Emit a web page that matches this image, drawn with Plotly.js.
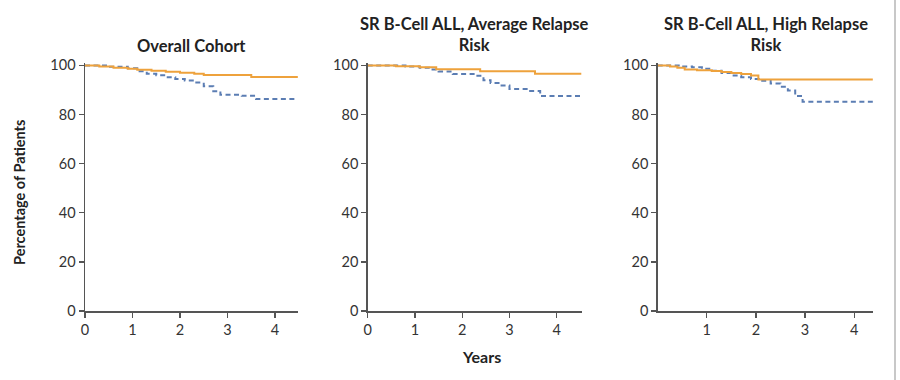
<!DOCTYPE html>
<html>
<head>
<meta charset="utf-8">
<script src="https://cdn.plot.ly/plotly-3.0.1.min.js"></script>
<style>html,body{margin:0;padding:0;background:#fff;}#chart{width:900px;height:380px;}</style>
</head>
<body>
<div id="chart"></div>
<script>
// Panel titles
const panelTitles = ["Overall Cohort", "SR B-Cell ALL, Average Relapse<br>Risk", "SR B-Cell ALL, High Relapse<br>Risk"];
const yTickVals = [0, 20, 40, 60, 80, 100];
const xTickVals1 = [0, 1, 2, 3, 4];
const xTickVals2 = [0, 1, 2, 3, 4];
const xTickVals3 = [1, 2, 3, 4];

// Overall cohort
const orange1X = [0, 0.3, 0.6, 0.9, 1.1, 1.4, 1.7, 2.0, 2.3, 2.5, 3.5, 4.48];
const orange1Y = [100, 99.6, 99.0, 98.6, 98.2, 97.8, 97.4, 97.0, 96.6, 96.1, 95.3, 95.3];
const blue1X = [0, 0.5, 0.9, 1.1, 1.3, 1.5, 1.7, 1.9, 2.1, 2.3, 2.5, 2.7, 2.85, 3.3, 3.6, 4.48];
const blue1Y = [100, 99.4, 98.8, 97.6, 96.6, 96.0, 95.2, 94.5, 93.8, 93.0, 91.5, 89.5, 88.0, 87.6, 86.3, 86.3];

// Average relapse risk
const orange2X = [0, 0.6, 1.1, 1.45, 2.38, 3.54, 4.52];
const orange2Y = [100, 99.7, 99.2, 98.4, 97.6, 96.6, 96.6];
const blue2X = [0, 0.8, 1.1, 1.3, 1.5, 1.8, 2.3, 2.45, 2.6, 2.8, 3.0, 3.4, 3.65, 4.52];
const blue2Y = [100, 99.6, 99.0, 98.3, 97.5, 96.5, 95.8, 94.0, 92.8, 91.8, 90.4, 89.6, 87.5, 87.5];

// High relapse risk
const orange3X = [0, 0.25, 0.4, 0.55, 0.8, 1.1, 1.3, 1.5, 1.7, 1.9, 2.05, 4.38];
const orange3Y = [100, 99.6, 99.0, 98.3, 98.0, 97.7, 97.3, 96.9, 96.5, 95.9, 94.3, 94.3];
const blue3X = [0, 0.45, 0.7, 0.9, 1.1, 1.3, 1.5, 1.7, 1.9, 2.1, 2.3, 2.5, 2.65, 2.8, 2.95, 4.38];
const blue3Y = [100, 99.6, 99.2, 98.6, 97.8, 96.9, 95.9, 95.2, 94.5, 93.7, 92.6, 91.3, 89.8, 87.5, 85.2, 85.2];

const W = 900, H = 380;
const ORANGE = "#EEA23C", BLUE = "#5B7DB3";
const FONT = "Lato, 'Open Sans', sans-serif";

function px(x) { return x / W; }
function py(y) { return 1 - y / H; }

// pixel geometry of panels
const y100 = 65.4, y0 = 311, yTop = 101;
const pxPerUnit = (y0 - y100) / 100;
const yDomTopPx = y0 - yTop * pxPerUnit;
const panels = [
  { l: 85, r: 298.3, xmax: 4.49, ticks: xTickVals1 },
  { l: 367.7, r: 582, xmax: 4.535, ticks: xTickVals2 },
  { l: 657.7, r: 873.3, xmax: 4.39, ticks: xTickVals3 }
];
const series = [
  [orange1X, orange1Y, blue1X, blue1Y],
  [orange2X, orange2Y, blue2X, blue2Y],
  [orange3X, orange3Y, blue3X, blue3Y]
];

const data = [];
const layout = {
  width: W, height: H,
  margin: { l: 0, r: 0, t: 0, b: 0 },
  paper_bgcolor: "#fff", plot_bgcolor: "#fff",
  showlegend: false,
  font: { family: FONT, color: "#333", size: 14 },
  annotations: [],
  shapes: [
    { type: "line", xref: "paper", yref: "paper", x0: px(895), x1: px(895), y0: 0, y1: 1,
      line: { color: "#c8c8c8", width: 2 } }
  ]
};

panels.forEach((p, i) => {
  const n = i === 0 ? "" : String(i + 1);
  const s = series[i];
  data.push({ x: s[2], y: s[3], xaxis: "x" + n, yaxis: "y" + n, mode: "lines", line: { shape: "hv", color: BLUE, width: 2, dash: "5px,3.5px" }, hoverinfo: "skip" });
  data.push({ x: s[0], y: s[1], xaxis: "x" + n, yaxis: "y" + n, mode: "lines", line: { shape: "hv", color: ORANGE, width: 2 }, hoverinfo: "skip" });
  const axCommon = {
    showline: true, linecolor: "#555", linewidth: 1.5,
    ticks: "outside", ticklen: 5, tickwidth: 1.3, tickcolor: "#555",
    showgrid: false, zeroline: false, fixedrange: true,
    tickfont: { family: FONT, size: 14.5, color: "#333" }
  };
  layout["xaxis" + n] = Object.assign({}, axCommon, {
    domain: [px(p.l), px(p.r)], range: [0, p.xmax],
    tickmode: "array", tickvals: p.ticks, ticktext: p.ticks.map(String),
    anchor: "y" + n
  });
  layout["yaxis" + n] = Object.assign({}, axCommon, {
    domain: [py(y0), py(yDomTopPx)], range: [0, yTop],
    tickmode: "array", tickvals: yTickVals, ticktext: yTickVals.map(String),
    anchor: "x" + n
  });
  const twoLine = panelTitles[i].indexOf("<br>") >= 0;
  layout.annotations.push({
    xref: "paper", yref: "paper", x: px((p.l + p.r) / 2), y: py(twoLine ? 35 : 46),
    xanchor: "center", yanchor: "middle", showarrow: false,
    text: "<b>" + panelTitles[i] + "</b>",
    font: { family: FONT, size: 16.5, color: "#222" }
  });
});

layout.annotations.push({
  xref: "paper", yref: "paper", x: px(19), y: py(193), xanchor: "center", yanchor: "middle",
  showarrow: false, textangle: -90, text: "<b>Percentage of Patients</b>",
  font: { family: FONT, size: 14.5, color: "#222" }
});
layout.annotations.push({
  xref: "paper", yref: "paper", x: px(481), y: py(356), xanchor: "center", yanchor: "middle",
  showarrow: false, text: "<b>Years</b>",
  font: { family: FONT, size: 16, color: "#222" }
});

Plotly.newPlot("chart", data, layout, { displayModeBar: false, staticPlot: true });
</script>
</body>
</html>
